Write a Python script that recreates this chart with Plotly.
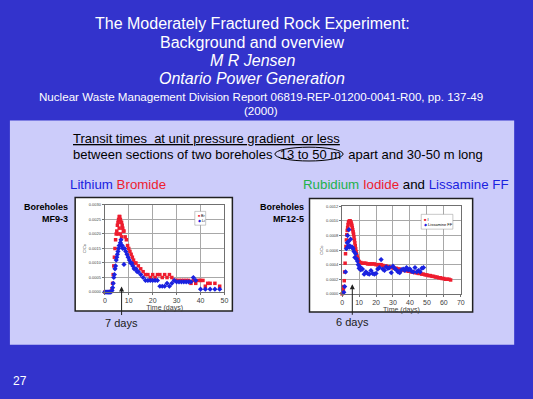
import plotly.graph_objects as go

# ---------------- data ----------------
br_days = [0, 0.5, 1, 1.5, 2, 2.5, 3, 3.25, 3.5, 3.75, 4, 4.25, 4.5, 4.75, 5, 5.25, 5.5, 5.75,
           6, 6.25, 6.5, 6.75, 7, 7.25, 7.5, 7.75, 8, 8.5, 9, 9.5, 10, 10.5, 11, 11.5, 12, 12.5,
           13, 14, 15, 16, 17, 18, 19, 20, 21, 22, 23, 24, 25, 26, 27, 28, 29, 30, 31, 32, 33,
           34, 35, 36, 37, 38, 39, 40, 41, 42, 43, 44, 46, 48,
           5.5, 6, 6.5, 7]
br_conc = [0.0, 0.0, 0.0, 0.0, 0.0, 0.00002, 0.0001, 0.0003, 0.0006, 0.0009, 0.0012, 0.0015,
           0.0018, 0.0020, 0.0021, 0.0023, 0.0024, 0.0025, 0.0026, 0.0026, 0.0025, 0.0024, 0.0024,
           0.0023, 0.0022, 0.0021, 0.0021, 0.0019, 0.0018, 0.0016, 0.0015, 0.0014, 0.0013, 0.0012,
           0.0011, 0.0010, 0.0010, 0.0009, 0.0008, 0.0007, 0.0006, 0.0006, 0.0005, 0.0006, 0.0005,
           0.0006, 0.0006, 0.0005, 0.0006, 0.0005, 0.0006, 0.0005, 0.0004, 0.0004, 0.0004, 0.0004,
           0.0004, 0.0004, 0.0004, 0.0003, 0.0004, 0.0003, 0.0004, 0.0004, 0.0004, 0.0002, 0.0003,
           0.0003, 0.0003, 0.0002,
           0.0020, 0.0022, 0.0020, 0.0019]

li_days = [0, 0.5, 1, 1.5, 2, 2.5, 3, 3.25, 3.5, 3.75, 4, 4.25, 4.5, 4.75, 5, 5.25, 5.5, 5.75,
           6, 6.25, 6.5, 6.75, 7, 7.25, 7.5, 8, 8.25, 8.75, 9.25, 9.75, 10.25, 10.75, 11.25,
           11.75, 12.25, 13, 13.5, 14, 15, 16, 17, 18, 19, 20, 21, 22, 23, 24, 25, 26, 27, 28,
           29, 30, 31, 32, 33, 34, 35, 36, 37, 38, 40, 42, 44, 46, 48]
li_conc = [0.0, 0.0, 0.0, 0.0, 0.0, 0.0, 0.00005, 0.00015, 0.0003, 0.0005, 0.0006, 0.0008,
           0.0009, 0.0011, 0.0012, 0.0013, 0.0014, 0.0015, 0.0016, 0.0016, 0.0017, 0.0018,
           0.0016, 0.0016, 0.0015, 0.00095, 0.0015, 0.0014, 0.0013, 0.0012, 0.0011, 0.0010,
           0.0010, 0.0009, 0.0008, 0.0008, 0.0007, 0.0007, 0.0006, 0.0005, 0.0004, 0.0004,
           0.0004, 0.0004, 0.0004, 0.0004, 0.0002, 0.0002, 0.0002, 0.0003, 0.0002, 0.0003,
           0.0004, 0.00035, 0.00035, 0.00035, 0.00035, 0.00035, 0.00035, 0.00035, 0.0005,
           0.0004, 0.0001, 0.0001, 0.0001, 0.0001, 0.0001]

i_days = [0, 0.5, 0.75, 1, 1.25, 1.5, 1.75, 2, 2.25, 2.5, 2.75, 3, 3.25, 3.5, 3.75, 4, 4.25,
          4.5, 4.75, 5, 5.25, 5.5, 5.75, 6, 6.25, 6.5, 6.75, 7, 7.25, 7.5, 7.75, 8, 8.25, 8.5,
          8.75, 9, 9.25, 9.5, 9.75, 10, 11, 12, 13, 14, 15, 16, 17, 18, 19, 20, 21, 22, 23, 24,
          25, 26, 27, 28, 29, 30, 31, 32, 33, 34, 35, 36, 37, 38, 39, 40, 41, 42, 43, 44, 45,
          46, 47, 48, 49, 50, 51, 52, 53, 54, 55, 56, 57, 58, 59, 60, 61, 62, 63, 64]
i_conc = [0.0, 0.00002, 0.00006, 0.0001, 0.00018, 0.0003, 0.00042, 0.00055, 0.00065, 0.00074,
          0.00081, 0.00087, 0.00091, 0.00095, 0.00098, 0.00099, 0.001, 0.001, 0.001, 0.00099,
          0.00098, 0.00096, 0.00094, 0.00091, 0.00088, 0.00085, 0.00082, 0.00078, 0.00074,
          0.0007, 0.00066, 0.00062, 0.00058, 0.00055, 0.00052, 0.0005, 0.00048, 0.00046,
          0.00045, 0.00044, 0.00043, 0.00042, 0.00042, 0.00042, 0.00041, 0.00041, 0.00041,
          0.00041, 0.00041, 0.0004, 0.0004, 0.0004, 0.0004, 0.00039, 0.00038, 0.00038, 0.00037,
          0.00037, 0.00036, 0.00036, 0.00035, 0.00035, 0.00034, 0.00034, 0.00033, 0.00033,
          0.00032, 0.00032, 0.00031, 0.00031, 0.0003, 0.0003, 0.00029, 0.00029, 0.00028,
          0.00028, 0.00027, 0.00027, 0.00026, 0.00026, 0.00025, 0.00025, 0.00024, 0.00024,
          0.00023, 0.00023, 0.00022, 0.00022, 0.00021, 0.00021, 0.0002, 0.0002, 0.0002, 0.00019]

lis_days = [1, 1.5, 2, 2.5, 3, 3.25, 3.5, 3.75, 4, 4.25, 4.5, 5, 5.5, 6, 6.5, 7, 7.5, 8, 8.5,
            9, 9.5, 10, 10.5, 11, 12, 13, 14, 15, 16, 17, 18, 19, 20, 21, 22, 23, 24, 25, 26,
            27, 28, 29, 30, 31, 32, 33, 34, 35, 36, 37, 38, 39, 40, 41, 42, 43, 44, 45, 46, 47, 48]
lis_conc = [0.00002, 0.0001, 0.0003, 0.00062, 0.0007, 0.0008, 0.00065, 0.00072, 0.00088,
            0.00064, 0.00066, 0.00075, 0.00064, 0.00064, 0.00062, 0.00058, 0.0005, 0.00055,
            0.00048, 0.00045, 0.0004, 0.00035, 0.00037, 0.00033, 0.00034, 0.00027, 0.0003,
            0.00028, 0.00027, 0.00032, 0.00028, 0.00027, 0.00028, 0.00034, 0.00036, 0.00047,
            0.00034, 0.00032, 0.00037, 0.00035, 0.00036, 0.00029, 0.00038, 0.00035, 0.00033,
            0.0003, 0.00029, 0.00033, 0.00034, 0.00032, 0.00036, 0.00033, 0.00034, 0.00031,
            0.0003, 0.00036, 0.0003, 0.00032, 0.0003, 0.00035, 0.00036]

arrow_days = [7, 6]
arrow_labels = ["7 days", "6 days"]

# ---------------- styling ----------------
W, H = 533, 399
BG = "#3333CC"
PANEL = "#CCCCFA"
RED = "#EE1C2E"
BLUE = "#1A22E0"
GREEN = "#22B14C"
FONT = "Liberation Sans, Arial, sans-serif"


def px(x):
    return x / W


def py(y):
    return 1 - y / H


fig = go.Figure()
fig.add_trace(go.Scatter(x=br_days, y=br_conc, mode="markers", name="Br",
                         marker=dict(symbol="square", size=3.5, color=RED),
                         xaxis="x", yaxis="y", cliponaxis=False))
fig.add_trace(go.Scatter(x=li_days, y=li_conc, mode="markers", name="Li",
                         marker=dict(symbol="diamond", size=4, color=BLUE),
                         xaxis="x", yaxis="y", cliponaxis=False))
fig.add_trace(go.Scatter(x=i_days, y=i_conc, mode="markers", name="I",
                         marker=dict(symbol="square", size=3.5, color=RED),
                         xaxis="x2", yaxis="y2", cliponaxis=False))
fig.add_trace(go.Scatter(x=lis_days, y=lis_conc, mode="markers", name="Lissamine FF",
                         marker=dict(symbol="diamond", size=4, color=BLUE),
                         xaxis="x2", yaxis="y2", cliponaxis=False))

axis_common = dict(showline=True, mirror=True, linecolor="#707070", linewidth=1,
                   gridcolor="#A8A8A8", gridwidth=1, zeroline=False,
                   ticks="outside", ticklen=2, tickcolor="#707070")
xfont = dict(family=FONT, size=7, color="#404040")
yfont = dict(family=FONT, size=4, color="#404040")

fig.update_layout(
    width=W, height=H, margin=dict(l=0, r=0, t=0, b=0),
    paper_bgcolor=BG, plot_bgcolor="white", showlegend=False,
    font=dict(family=FONT),
    xaxis=dict(domain=[px(104), px(225)], range=[0, 50], dtick=10, anchor="y",
               tickfont=xfont, title=dict(text="Time (days)", font=xfont, standoff=0),
               **axis_common),
    yaxis=dict(domain=[py(292.7), py(204.5)], range=[0, 0.003], dtick=0.0005,
               tickformat=".4f", anchor="x", tickfont=yfont,
               title=dict(text="C/Co", font=yfont, standoff=2), **axis_common),
    xaxis2=dict(domain=[px(344), px(464)], range=[0, 70], dtick=10, anchor="y2",
                tickfont=xfont, title=dict(text="Time (days)", font=xfont, standoff=0),
                **axis_common),
    yaxis2=dict(domain=[py(294.5), py(206)], range=[0, 0.0012], dtick=0.0002,
                tickformat=".4f", anchor="x2", tickfont=yfont,
                title=dict(text="C/Co", font=yfont, standoff=2), **axis_common),
)

shapes = [
    dict(type="rect", xref="paper", yref="paper", x0=px(8), x1=px(518), y0=py(346), y1=py(119),
         fillcolor=PANEL, line=dict(width=0), layer="below"),
    dict(type="rect", xref="paper", yref="paper", x0=px(74), x1=px(233), y0=py(312), y1=py(197),
         fillcolor="white", line=dict(color="#202020", width=1.5), layer="below"),
    dict(type="rect", xref="paper", yref="paper", x0=px(311), x1=px(476), y0=py(313), y1=py(198),
         fillcolor="white", line=dict(color="#202020", width=1.5), layer="below"),
    dict(type="circle", xref="paper", yref="paper", x0=px(276), x1=px(345), y0=py(160), y1=py(146),
         line=dict(color="black", width=1)),
    # legend boxes
    dict(type="rect", xref="paper", yref="paper", x0=px(195), x1=px(206), y0=py(225), y1=py(211),
         fillcolor="white", line=dict(color="#909090", width=0.5)),
    dict(type="rect", xref="paper", yref="paper", x0=px(424), x1=px(456), y0=py(229), y1=py(214),
         fillcolor="white", line=dict(color="#909090", width=0.5)),
]
fig.update_layout(shapes=shapes)


def ann(text, x, y, size, color="white", xanchor="center", yanchor="middle", align="center",
        italic=False):
    return dict(text=text, x=x, y=y, xref="paper", yref="paper", showarrow=False,
                xanchor=xanchor, yanchor=yanchor, align=align,
                font=dict(family=FONT, size=size, color=color,
                          style="italic" if italic else "normal"))


annotations = [
    ann("The Moderately Fractured Rock Experiment:", px(253), py(21), 16),
    ann("Background and overview", px(253), py(40), 16),
    ann("M R Jensen", px(253), py(58), 16, italic=True),
    ann("Ontario Power Generation", px(253), py(76), 16, italic=True),
    ann("Nuclear Waste Management Division Report 06819-REP-01200-0041-R00, pp. 137-49",
        px(262), py(94.5), 11.6),
    ann("(2000)", px(262), py(109), 11.6),
    ann("<u>Transit times  at unit pressure gradient  or less</u>", px(70), py(137), 13,
        color="black", xanchor="left"),
    ann("between sections of two boreholes  13 to 50 m  apart and 30-50 m long", px(70), py(153),
        13, color="black", xanchor="left"),
    ann(f"<span style='color:{BLUE}'>Lithium</span> <span style='color:{RED}'>Bromide</span>",
        px(117), py(184), 13.3),
    ann(f"<span style='color:{GREEN}'>Rubidium</span> <span style='color:{RED}'>Iodide</span> "
        f"<span style='color:black'>and</span> <span style='color:{BLUE}'>Lissamine FF</span>",
        px(409), py(184), 13.3),
    ann("<b>Boreholes</b><br><b>MF9-3</b>", px(69), py(199), 9, color="black",
        xanchor="right", yanchor="top", align="right"),
    ann("<b>Boreholes</b><br><b>MF12-5</b>", px(307), py(199), 9, color="black",
        xanchor="right", yanchor="top", align="right"),
    ann("27", px(18), py(383), 12),
    # legends
    ann(f"<span style='color:{RED}'>■</span> Br<br><span style='color:{BLUE}'>◆</span> Li",
        px(196), py(218), 3.5, color="black", xanchor="left", align="left"),
    ann(f"<span style='color:{RED}'>■</span> I<br><span style='color:{BLUE}'>◆</span> Lissamine FF",
        px(425), py(221.5), 4, color="black", xanchor="left", align="left"),
]

arrow_refs = [("x", "y", 0.00019, 36), ("x2", "y2", 0.00013, 38)]
for d, lab, (xr, yr, ytip, ay) in zip(arrow_days, arrow_labels, arrow_refs):
    annotations.append(dict(text=lab, x=d, y=ytip, xref=xr, yref=yr, showarrow=True,
                            ax=0, ay=ay, arrowhead=2, arrowsize=1, arrowwidth=1,
                            arrowcolor="#202020",
                            font=dict(family=FONT, size=11, color="#202020")))

fig.update_layout(annotations=annotations)
fig.write_html("out.html",
               config={"displayModeBar": False},
               post_script="document.body.style.margin='0';document.body.style.padding='0';"
                           "document.body.style.overflow='hidden';"
                           "document.body.style.background='" + BG + "';")
